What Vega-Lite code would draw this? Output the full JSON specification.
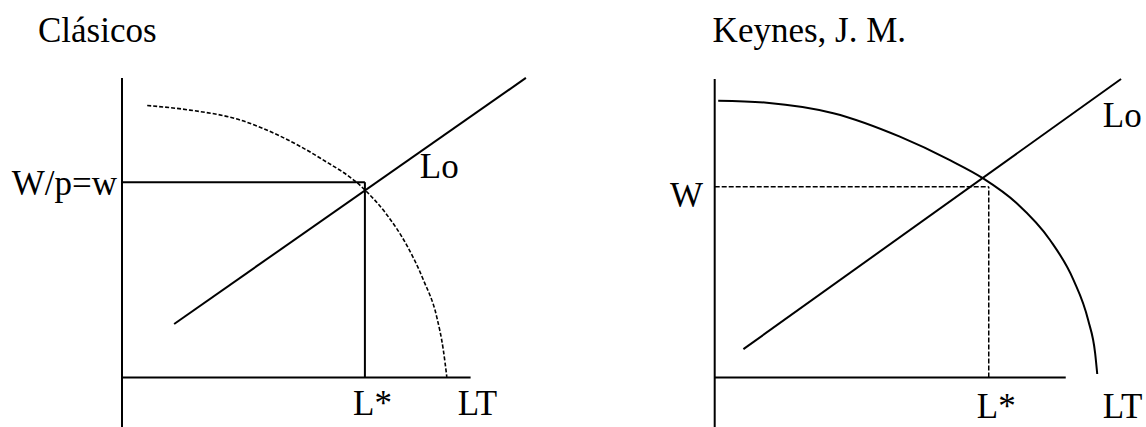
{
  "$schema": "https://vega.github.io/schema/vega-lite/v6.json",
  "padding": 0,
  "spacing": 0,
  "background": "white",
  "config": {"view": {"stroke": null}, "text": {"font": "Liberation Serif"}},
  "datasets": {
    "segments": [
      {"panel": "C", "kind": "axis", "L": 0, "w": -1.45, "L2": 0, "w2": 8.56},
      {"panel": "C", "kind": "axis", "L": 0, "w": 0, "L2": 9.96, "w2": 0},
      {"panel": "C", "kind": "guide", "L": 0, "w": 5.58, "L2": 6.94, "w2": 5.58},
      {"panel": "C", "kind": "guide", "L": 6.94, "w": 0, "L2": 6.94, "w2": 5.58},
      {"panel": "C", "kind": "Lo", "L": 1.49, "w": 1.53, "L2": 11.54, "w2": 8.56},
      {"panel": "K", "kind": "axis", "L": 0, "w": -1.45, "L2": 0, "w2": 8.53},
      {"panel": "K", "kind": "axis", "L": 0, "w": 0, "L2": 10.03, "w2": 0},
      {"panel": "K", "kind": "guide", "L": 0, "w": 5.45, "L2": 7.83, "w2": 5.45},
      {"panel": "K", "kind": "guide", "L": 7.83, "w": 0, "L2": 7.83, "w2": 5.45},
      {"panel": "K", "kind": "Lo", "L": 0.82, "w": 0.81, "L2": 11.61, "w2": 8.53}
    ],
    "frontier": [
      {"panel": "C", "L": 0.72, "w": 7.77},
      {"panel": "C", "L": 1.94, "w": 7.64},
      {"panel": "C", "L": 3.37, "w": 7.36},
      {"panel": "C", "L": 4.51, "w": 6.9},
      {"panel": "C", "L": 5.66, "w": 6.27},
      {"panel": "C", "L": 6.94, "w": 5.36},
      {"panel": "C", "L": 7.56, "w": 4.66},
      {"panel": "C", "L": 8.13, "w": 3.79},
      {"panel": "C", "L": 8.61, "w": 2.79},
      {"panel": "C", "L": 8.99, "w": 1.74},
      {"panel": "C", "L": 9.18, "w": 0.79},
      {"panel": "C", "L": 9.28, "w": 0.02},
      {"panel": "K", "L": 0.1, "w": 7.91},
      {"panel": "K", "L": 1.49, "w": 7.85},
      {"panel": "K", "L": 3.39, "w": 7.55},
      {"panel": "K", "L": 5.29, "w": 6.88},
      {"panel": "K", "L": 6.72, "w": 6.21},
      {"panel": "K", "L": 7.67, "w": 5.69},
      {"panel": "K", "L": 8.63, "w": 4.98},
      {"panel": "K", "L": 9.58, "w": 3.93},
      {"panel": "K", "L": 10.25, "w": 2.79},
      {"panel": "K", "L": 10.67, "w": 1.64},
      {"panel": "K", "L": 10.87, "w": 0.69},
      {"panel": "K", "L": 10.93, "w": 0.1}
    ],
    "labels": [
      {"panel": "C", "text": "Clásicos", "L": -2.4, "w": 9.59},
      {"panel": "C", "text": "W/p=w", "L": -3.15, "w": 5.21},
      {"panel": "C", "text": "Lo", "L": 8.51, "w": 5.7},
      {"panel": "C", "text": "L*", "L": 6.6, "w": -1.07},
      {"panel": "C", "text": "LT", "L": 9.59, "w": -1.07},
      {"panel": "K", "text": "Keynes, J. M.", "L": -0.06, "w": 9.59},
      {"panel": "K", "text": "W", "L": -1.28, "w": 4.88},
      {"panel": "K", "text": "Lo", "L": 11.09, "w": 7.17},
      {"panel": "K", "text": "L*", "L": 7.49, "w": -1.16},
      {"panel": "K", "text": "LT", "L": 11.09, "w": -1.16}
    ]
  },
  "hconcat": [
    {
      "width": 573,
      "height": 427,
      "layer": [
        {
          "data": {"name": "segments"},
          "transform": [{"filter": {"field": "panel", "equal": "C"}}],
          "mark": {"type": "rule", "color": "black", "strokeWidth": 2, "clip": true},
          "encoding": {
            "x": {"field": "L", "type": "quantitative", "axis": null, "scale": {"domain": [-3.4857, 12.8857], "nice": false, "zero": false}},
            "y": {"field": "w", "type": "quantitative", "axis": null, "scale": {"domain": [-1.4143, 10.7857], "nice": false, "zero": false}},
            "x2": {"field": "L2"},
            "y2": {"field": "w2"}
          }
        },
        {
          "data": {"name": "frontier"},
          "transform": [{"filter": {"field": "panel", "equal": "C"}}],
          "mark": {"type": "line", "color": "black", "strokeWidth": 1.6, "strokeDash": [4, 2], "interpolate": "monotone", "clip": true},
          "encoding": {
            "x": {"field": "L", "type": "quantitative", "axis": null, "scale": {"domain": [-3.4857, 12.8857], "nice": false, "zero": false}},
            "y": {"field": "w", "type": "quantitative", "axis": null, "scale": {"domain": [-1.4143, 10.7857], "nice": false, "zero": false}}
          }
        },
        {
          "data": {"name": "labels"},
          "transform": [{"filter": {"field": "panel", "equal": "C"}}],
          "mark": {"type": "text", "align": "left", "baseline": "alphabetic", "fontSize": 35, "font": "Liberation Serif", "color": "black", "clip": true},
          "encoding": {
            "x": {"field": "L", "type": "quantitative", "axis": null, "scale": {"domain": [-3.4857, 12.8857], "nice": false, "zero": false}},
            "y": {"field": "w", "type": "quantitative", "axis": null, "scale": {"domain": [-1.4143, 10.7857], "nice": false, "zero": false}},
            "text": {"field": "text", "type": "nominal"}
          }
        }
      ]
    },
    {
      "width": 573,
      "height": 427,
      "layer": [
        {
          "data": {"name": "segments"},
          "transform": [{"filter": {"field": "panel", "equal": "K"}}, {"filter": {"field": "kind", "oneOf": ["axis", "Lo"]}}],
          "mark": {"type": "rule", "color": "black", "strokeWidth": 2, "clip": true},
          "encoding": {
            "x": {"field": "L", "type": "quantitative", "axis": null, "scale": {"domain": [-4.0486, 12.3229], "nice": false, "zero": false}},
            "y": {"field": "w", "type": "quantitative", "axis": null, "scale": {"domain": [-1.4143, 10.7857], "nice": false, "zero": false}},
            "x2": {"field": "L2"},
            "y2": {"field": "w2"}
          }
        },
        {
          "data": {"name": "segments"},
          "transform": [{"filter": {"field": "panel", "equal": "K"}}, {"filter": {"field": "kind", "equal": "guide"}}],
          "mark": {"type": "rule", "color": "black", "strokeWidth": 1.5, "strokeDash": [5, 2], "clip": true},
          "encoding": {
            "x": {"field": "L", "type": "quantitative", "axis": null, "scale": {"domain": [-4.0486, 12.3229], "nice": false, "zero": false}},
            "y": {"field": "w", "type": "quantitative", "axis": null, "scale": {"domain": [-1.4143, 10.7857], "nice": false, "zero": false}},
            "x2": {"field": "L2"},
            "y2": {"field": "w2"}
          }
        },
        {
          "data": {"name": "frontier"},
          "transform": [{"filter": {"field": "panel", "equal": "K"}}],
          "mark": {"type": "line", "color": "black", "strokeWidth": 2, "interpolate": "monotone", "clip": true},
          "encoding": {
            "x": {"field": "L", "type": "quantitative", "axis": null, "scale": {"domain": [-4.0486, 12.3229], "nice": false, "zero": false}},
            "y": {"field": "w", "type": "quantitative", "axis": null, "scale": {"domain": [-1.4143, 10.7857], "nice": false, "zero": false}}
          }
        },
        {
          "data": {"name": "labels"},
          "transform": [{"filter": {"field": "panel", "equal": "K"}}],
          "mark": {"type": "text", "align": "left", "baseline": "alphabetic", "fontSize": 35, "font": "Liberation Serif", "color": "black", "clip": true},
          "encoding": {
            "x": {"field": "L", "type": "quantitative", "axis": null, "scale": {"domain": [-4.0486, 12.3229], "nice": false, "zero": false}},
            "y": {"field": "w", "type": "quantitative", "axis": null, "scale": {"domain": [-1.4143, 10.7857], "nice": false, "zero": false}},
            "text": {"field": "text", "type": "nominal"}
          }
        }
      ]
    }
  ]
}
